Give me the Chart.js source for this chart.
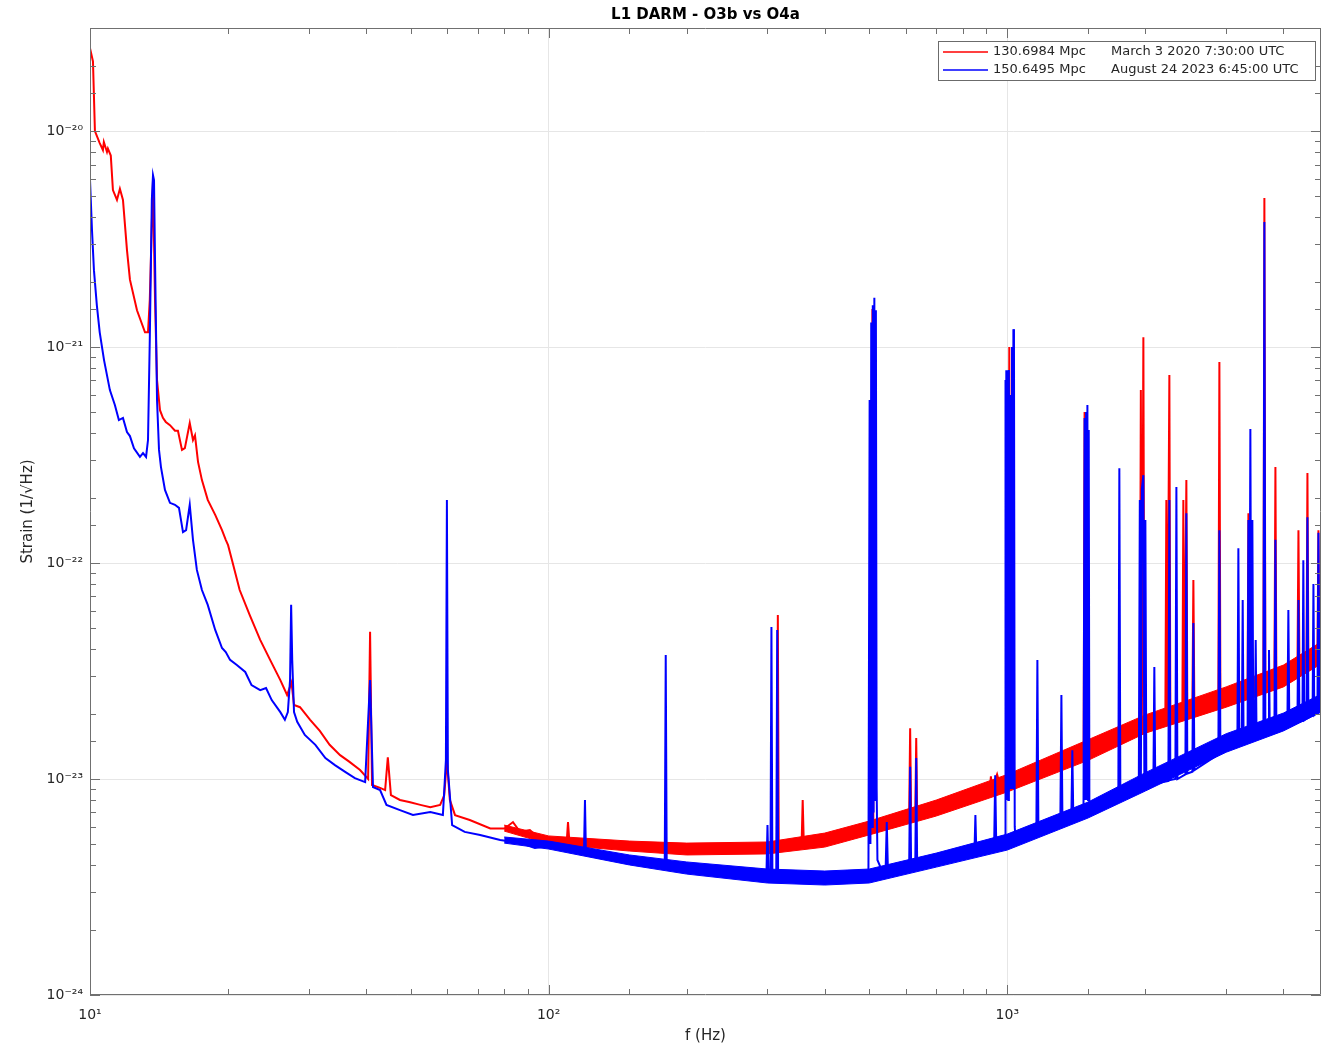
<!DOCTYPE html>
<html>
<head>
<meta charset="utf-8">
<title>L1 DARM - O3b vs O4a</title>
<script src="https://cdn.jsdelivr.net/npm/chart.js@4.4.0/dist/chart.umd.min.js"></script>
<style>
    html, body { margin: 0; padding: 0; background: #fff; }
    #wrap { width: 1321px; height: 1046px; }
</style>
</head>
<body>
<div id="wrap"><canvas id="chart-1" width="1321" height="1046"></canvas></div>
<script>
// O4a (blue), Hz / strain
const o4aFreq = [10, 10.1, 10.2, 10.35, 10.5, 10.73, 11.05, 11.33, 11.56, 11.8, 12.04, 12.22, 12.47, 12.85, 13.05, 13.25, 13.38,
    13.5, 13.64, 13.72, 13.79, 13.86, 14.0, 14.14, 14.28, 14.57, 14.94, 15.32, 15.63, 15.95, 16.2, 16.5, 16.77, 17.1, 17.54,
    18.06, 18.75, 19.4, 19.77, 20.2, 20.9, 21.8, 22.5, 23.5, 24.2, 24.9, 26.0, 26.6, 27.0, 27.3, 27.45, 27.6, 27.85, 28.3,
    29.4, 31.0, 32.6, 34.2, 36.0, 37.8, 39.8, 40.8, 41.4, 42.9, 44.3, 47.4, 50.6, 55.2, 58.8, 59.7, 60.0, 60.3, 61.6, 65.6,
    70.9, 78.4, 86.6, 93.3, 101, 111, 119.4, 120, 120.6, 129.5, 143, 158, 179.1, 180, 180.9, 203, 237, 275, 298.5, 300, 301.5,
    304.5, 306, 307.5, 313.5, 315, 316.5, 355, 412, 478, 498, 501, 503, 505, 507, 509, 511, 513, 515, 517, 519, 521, 530,
    543, 546, 549, 597, 611, 614, 617, 630, 633, 636, 751, 848, 852, 856, 936, 941, 946, 980, 989, 990, 992, 995, 998,
    1002, 1005, 1008, 1012, 1016, 1020, 1024, 1028, 1031, 1034, 1038, 1042, 1093, 1157, 1163, 1169, 1237, 1305, 1312, 1319,
    1379, 1386, 1393, 1466, 1474, 1480, 1485, 1490, 1495, 1500, 1505, 1510, 1531, 1670, 1746, 1755, 1764, 1935, 1945, 1955,
    1965, 1980, 1990, 2000, 2010, 2082, 2092, 2102, 2245, 2256, 2267, 2325, 2337, 2349, 2445, 2457, 2469, 2532, 2545, 2558,
    2885, 2900, 2915, 3174, 3190, 3206, 3245, 3260, 3275, 3340, 3355, 3370, 3388, 3405, 3422, 3439, 3465, 3480, 3495, 3617,
    3635, 3653, 3705, 3720, 3735, 3823, 3842, 3861, 4080, 4100, 4120, 4291, 4313, 4335, 4400, 4420, 4440, 4490, 4512, 4534,
    4630, 4650, 4670, 4744, 4768, 4792, 4830]
const o4aStrain = [5.93e-21, 3.48e-21, 2.27e-21, 1.56e-21, 1.17e-21, 8.7e-22, 6.32e-22, 5.39e-22, 4.59e-22, 4.7e-22, 4.04e-22,
    3.87e-22, 3.4e-22, 3.1e-22, 3.23e-22, 3.1e-22, 3.71e-22,
    1.08e-21, 4.8e-21, 6.25e-21, 5.93e-21, 2.53e-21, 5.69e-22, 3.34e-22, 2.78e-22, 2.18e-22, 1.9e-22, 1.86e-22, 1.8e-22,
    1.39e-22, 1.42e-22, 1.86e-22, 1.28e-22, 9.29e-23, 7.5e-23,
    6.4e-23, 4.9e-23, 4.04e-23, 3.87e-23, 3.56e-23, 3.37e-23, 3.13e-23, 2.72e-23, 2.58e-23, 2.64e-23, 2.32e-23, 2.04e-23,
    1.88e-23, 2.04e-23, 2.87e-23, 6.4e-23, 3.56e-23, 2.04e-23, 1.84e-23,
    1.6e-23, 1.44e-23, 1.25e-23, 1.16e-23, 1.08e-23, 1.01e-23, 9.68e-24, 2.87e-23, 9.18e-24, 8.89e-24, 7.59e-24, 7.18e-24,
    6.81e-24, 7.03e-24, 6.81e-24, 1.22e-23, 1.96e-22, 1.1e-23, 6.12e-24, 5.69e-24,
    5.51e-24, 5.22e-24, 5.06e-24, 4.8e-24, 4.9e-24, 4.69e-24, 4.6e-24, 8.0e-24, 4.45e-24, 4.31e-24, 4.22e-24, 4.13e-24,
    4.0e-24, 3.75e-23, 4.0e-24, 3.87e-24, 3.79e-24, 3.71e-24, 3.71e-24, 6.12e-24, 3.71e-24,
    3.71e-24, 5.06e-23, 3.71e-24, 3.65e-24, 4.9e-23, 3.6e-24, 3.48e-24, 3.41e-24, 3.48e-24, 3.6e-24, 5.69e-22, 5e-24,
    1.3e-21, 6e-24, 1.56e-21, 7e-24, 1.69e-21, 8e-24, 1.48e-21, 9e-24, 4.22e-24, 3.87e-24,
    3.87e-24, 6.32e-24, 3.87e-24, 3.96e-24, 3.96e-24, 1.14e-23, 3.96e-24, 4.0e-24, 1.25e-23, 4.04e-24, 4.4e-24, 4.6e-24,
    6.81e-24, 4.6e-24, 4.9e-24, 1.04e-23, 4.95e-24, 5.06e-24, 5e-24, 7.03e-22, 8e-24, 7.8e-22, 8e-24,
    6.5e-22, 8e-24, 7.83e-22, 9e-24, 6e-22, 9e-24, 1.0e-21, 9e-24, 1.21e-21, 1.1e-21, 6e-24, 5.33e-24, 5.51e-24, 5.7e-24,
    3.56e-23, 5.75e-24, 6.12e-24, 6.2e-24, 2.45e-23, 6.3e-24,
    6.5e-24, 1.36e-23, 6.6e-24, 6.9e-24, 4.69e-22, 8e-24, 5e-22, 8e-24, 5.39e-22, 8e-24, 4.13e-22, 7e-24, 7.03e-24, 7.6e-24,
    7.9e-24, 2.75e-22, 8.0e-24, 8.9e-24, 1.96e-22, 9e-24,
    2.2e-22, 2.55e-22, 9.2e-24, 1.58e-22, 9.3e-24, 9.4e-24, 3.3e-23, 9.5e-24, 9.8e-24, 1.96e-22, 9.9e-24, 1.0e-23, 2.25e-22,
    1.0e-23, 1.05e-23, 1.7e-22, 1.06e-23, 1.08e-23, 5.27e-23, 1.1e-23,
    1.3e-23, 1.42e-22, 1.32e-23, 1.42e-23, 1.17e-22, 1.44e-23, 1.46e-23, 6.74e-23, 1.47e-23, 1.48e-23, 1.58e-22, 1.5e-23,
    4.17e-22, 1.5e-23, 1.58e-22, 1.52e-23, 1.53e-23, 4.4e-23, 1.54e-23, 1.58e-23,
    3.79e-21, 1.6e-23, 1.62e-23, 3.96e-23, 1.63e-23, 1.68e-23, 1.28e-22, 1.7e-23, 1.76e-23, 6.06e-23, 1.77e-23, 1.82e-23,
    6.74e-23, 1.84e-23, 1.86e-23, 1.03e-22, 1.87e-23, 1.9e-23, 1.63e-22, 1.92e-23,
    1.97e-23, 8.0e-23, 1.98e-23, 2.05e-23, 1.38e-22, 2.08e-23, 2.15e-23]

// O3b (red)
const o3bFreq = [10, 10.15, 10.25, 10.5, 10.67, 10.72, 10.89, 10.94, 11.1, 11.22, 11.45, 11.62, 11.8, 12.04, 12.22, 12.66,
    13.18, 13.38, 13.5, 13.72, 13.86, 14.0, 14.21, 14.42, 14.63, 14.94, 15.32, 15.55, 15.87, 16.1, 16.5, 16.77, 16.94, 17.2,
    17.54, 18.06, 18.75, 19.4, 19.77, 20.0, 20.4, 21.2, 22.3, 23.5, 24.7, 26.0, 26.9, 27.5, 27.85, 28.7, 30.2, 31.7, 33.3,
    35.1, 36.8, 38.8, 40.4, 40.8, 41.2, 42.9, 44.0, 44.6, 45.3, 47.4, 49.9, 52.5, 55.2, 58.0, 59.2, 60.0, 60.9, 62.5, 67.3,
    74.6, 80.2, 83.6, 86.6, 91, 95.5, 103, 109.5, 110.2, 111, 123, 143, 166, 193, 225, 262, 303, 314.5, 316, 317.5, 350, 356,
    358, 360, 412, 452, 505.5, 508, 510.5, 556, 611, 614, 617, 630, 633, 636, 751, 852, 916, 921, 926, 950, 964, 1005,
    1010, 1015, 1068, 1237, 1305, 1467, 1474, 1481, 1587, 1765, 1945, 1955, 1965, 1980, 1990, 2211, 2222, 2233, 2256, 2267,
    2408, 2420, 2432, 2457, 2469, 2532, 2545, 2558, 2885, 2900, 2915, 3340, 3355, 3370, 3617, 3635, 3653, 3823, 3842, 3861,
    4291, 4313, 4335, 4490, 4512, 4534, 4744, 4768, 4792, 4830]
const o3bStrain = [2.42e-20, 2.1e-20, 1.0e-20, 8.8e-21, 8.17e-21, 8.9e-21, 8.0e-21, 8.3e-21, 7.7e-21, 5.33e-21, 4.8e-21,
    5.4e-21, 4.8e-21, 2.81e-21, 2.05e-21, 1.48e-21,
    1.17e-21, 1.17e-21, 1.65e-21, 5.9e-21, 1.65e-21, 7.03e-22, 5.1e-22, 4.7e-22, 4.5e-22, 4.35e-22, 4.1e-22, 4.1e-22,
    3.34e-22, 3.4e-22, 4.45e-22, 3.71e-22, 3.9e-22, 2.94e-22,
    2.42e-22, 1.96e-22, 1.67e-22, 1.42e-22, 1.28e-22, 1.21e-22, 1.03e-22, 7.5e-23, 5.74e-23, 4.41e-23, 3.56e-23, 2.87e-23,
    2.45e-23, 2.8e-23, 2.2e-23, 2.15e-23, 1.88e-23, 1.67e-23, 1.44e-23,
    1.29e-23, 1.2e-23, 1.1e-23, 1.0e-23, 4.8e-23, 9.38e-24, 9.1e-24, 8.89e-24, 1.26e-23, 8.43e-24, 8.0e-24, 7.8e-24,
    7.59e-24, 7.4e-24, 7.59e-24, 8.4e-24, 1.22e-23, 8.0e-24, 6.8e-24, 6.46e-24,
    5.9e-24, 5.9e-24, 6.32e-24, 5.7e-24, 5.8e-24, 5.3e-24, 5.1e-24, 5.1e-24, 6.32e-24, 5.06e-24, 4.95e-24, 4.85e-24, 4.8e-24,
    4.69e-24, 4.6e-24, 4.69e-24, 4.8e-24, 4.8e-24, 5.74e-23, 4.85e-24, 4.95e-24, 4.95e-24,
    8.0e-24, 5.0e-24, 5.51e-24, 5.81e-24, 6.1e-24, 1.5e-21, 6.1e-24, 6.46e-24, 6.8e-24, 1.72e-23, 6.8e-24, 6.85e-24,
    1.55e-23, 6.9e-24, 7.59e-24, 8.43e-24, 9.0e-24, 1.03e-23, 9.0e-24, 1.05e-23, 9.38e-24, 9.6e-24,
    1.0e-21, 9.7e-24, 1.0e-23, 1.16e-23, 1.22e-23, 1.33e-23, 5e-22, 1.35e-23, 1.44e-23, 1.55e-23, 1.73e-23, 6.32e-22,
    1.75e-23, 1.11e-21, 1.77e-23, 1.93e-23, 1.96e-22, 1.94e-23, 7.42e-22, 1.96e-23,
    2.0e-23, 1.96e-22, 2.01e-23, 2.42e-22, 2.03e-23, 2.06e-23, 8.34e-23, 2.08e-23, 2.3e-23, 8.53e-22, 2.32e-23, 2.55e-23,
    1.7e-22, 2.57e-23, 2.7e-23, 4.9e-21, 2.72e-23, 2.8e-23, 2.78e-22, 2.82e-23,
    3.1e-23, 1.42e-22, 3.12e-23, 3.3e-23, 2.61e-22, 3.32e-23, 3.7e-23, 1.42e-22, 3.72e-23, 3.8e-23]

// noise band (upper / lower edge of the thick trace)
const bandFreq = [80, 100, 150, 200, 300, 400, 500, 700, 1000, 1500, 2000, 3000, 4000, 4830]
const o3bHigh = [6.12e-24, 5.45e-24, 5.16e-24, 5.05e-24, 5.11e-24, 5.62e-24, 6.39e-24, 7.99e-24, 1.05e-23, 1.52e-23, 1.98e-23, 2.67e-23, 3.37e-23, 4.31e-23]
const o3bLow = [5.74e-24, 5.0e-24, 4.64e-24, 4.45e-24, 4.5e-24, 4.84e-24, 5.51e-24, 6.74e-24, 8.71e-24, 1.22e-23, 1.63e-23, 2.15e-23, 2.67e-23, 3.41e-23]
const o4aHigh = [5.39e-24, 5.16e-24, 4.45e-24, 4.13e-24, 3.83e-24, 3.75e-24, 3.83e-24, 4.54e-24, 5.56e-24, 7.82e-24, 1.07e-23, 1.62e-23, 2.02e-23, 2.47e-23]
const o4aLow = [5.05e-24, 4.74e-24, 4.0e-24, 3.63e-24, 3.3e-24, 3.23e-24, 3.3e-24, 3.91e-24, 4.69e-24, 6.6e-24, 8.8e-24, 1.33e-23, 1.67e-23, 2.04e-23]

const legendRange = ['130.6984 Mpc', '150.6495 Mpc']
const legendTime = ['March 3 2020 7:30:00 UTC', 'August 24 2023 6:45:00 UTC']
const legendColor = ['#ff0000', '#0000ff']

const xMin = 10, xMax = 4830
const yMin = 1e-24, yMax = 3e-20

const pts = (xs, ys) => xs.map((x, i) => ({ x: x, y: ys[i] }))

const isMajor = v => Math.abs(Math.log10(v) - Math.round(Math.log10(v))) < 1e-6
const sup = s => s.replace(/[-0-9]/g, c => ({ '-': '⁻', '0': '⁰', '1': '¹', '2': '²', '3': '³', '4': '⁴', '5': '⁵', '6': '⁶', '7': '⁷', '8': '⁸', '9': '⁹' })[c])
const powLabel = v => isMajor(v) ? '10' + sup(String(Math.round(Math.log10(v)))) : ''

Chart.defaults.font.family = '"DejaVu Sans", sans-serif'
Chart.defaults.color = '#262626'

// MATLAB like box with inward ticks on all four sides
const frameTicks = {
    id: 'frameTicks',
    afterDatasetsDraw(chart) {
        const { ctx, chartArea: a, scales: { x, y } } = chart
        ctx.save()
        ctx.strokeStyle = '#707070'
        ctx.lineWidth = 1
        ctx.beginPath()
        ctx.rect(a.left + 0.5, a.top + 0.5, a.right - a.left - 1, a.bottom - a.top - 1)
        x.ticks.forEach(t => {
            const px = Math.round(x.getPixelForValue(t.value)) + 0.5
            const len = isMajor(t.value) ? 10 : 6
            ctx.moveTo(px, a.bottom); ctx.lineTo(px, a.bottom - len)
            ctx.moveTo(px, a.top); ctx.lineTo(px, a.top + len)
        })
        y.ticks.forEach(t => {
            const py = Math.round(y.getPixelForValue(t.value)) + 0.5
            const len = isMajor(t.value) ? 10 : 6
            ctx.moveTo(a.left, py); ctx.lineTo(a.left + len, py)
            ctx.moveTo(a.right, py); ctx.lineTo(a.right - len, py)
        })
        ctx.stroke()
        ctx.restore()
    }
}

// boxed legend in the upper right corner
const boxLegend = {
    id: 'boxLegend',
    afterDraw(chart) {
        const { ctx, chartArea: a } = chart
        const bx = a.right - 383, by = a.top + 13, bw = 377, bh = 39
        ctx.save()
        ctx.fillStyle = '#fff'
        ctx.fillRect(bx, by, bw, bh)
        ctx.strokeStyle = '#6b6b6b'
        ctx.lineWidth = 1
        ctx.strokeRect(bx + 0.5, by + 0.5, bw, bh)
        ctx.font = '13px "DejaVu Sans"'
        ctx.textBaseline = 'middle'
        legendRange.forEach((r, i) => {
            const ly = by + 11 + i * 18
            ctx.strokeStyle = legendColor[i]
            ctx.lineWidth = 1.5
            ctx.beginPath()
            ctx.moveTo(bx + 5, ly); ctx.lineTo(bx + 50, ly)
            ctx.stroke()
            ctx.fillStyle = '#262626'
            ctx.fillText(r, bx + 55, ly)
            ctx.fillText(legendTime[i], bx + 173, ly)
        })
        ctx.restore()
    }
}

const ctx1 = document.getElementById('chart-1')

new Chart(ctx1, {
    type: 'line',
    data: {
        datasets: [
            { label: 'O4a', data: pts(o4aFreq, o4aStrain), borderColor: '#0000ff', borderWidth: 2 },
            { label: 'O4a low', data: pts(bandFreq, o4aLow), borderColor: '#0000ff', borderWidth: 1 },
            { label: 'O4a high', data: pts(bandFreq, o4aHigh), borderColor: '#0000ff', borderWidth: 1, fill: '-1', backgroundColor: '#0000ff' },
            { label: 'O3b', data: pts(o3bFreq, o3bStrain), borderColor: '#ff0000', borderWidth: 2 },
            { label: 'O3b low', data: pts(bandFreq, o3bLow), borderColor: '#ff0000', borderWidth: 1 },
            { label: 'O3b high', data: pts(bandFreq, o3bHigh), borderColor: '#ff0000', borderWidth: 1, fill: '-1', backgroundColor: '#ff0000' }
        ]
    },
    options: {
        responsive: false,
        animation: false,
        events: [],
        elements: { point: { radius: 0 }, line: { tension: 0, borderJoinStyle: 'miter' } },
        layout: { padding: 0 },
        plugins: {
            legend: { display: false },
            tooltip: { enabled: false },
            title: {
                display: true,
                fullSize: false,
                text: 'L1 DARM - O3b vs O4a',
                color: '#000',
                font: { size: 15, weight: 'bold' },
                padding: { top: 6, bottom: 4 }
            }
        },
        scales: {
            x: {
                type: 'logarithmic',
                min: xMin,
                max: xMax,
                border: { display: false },
                grid: {
                    drawTicks: false,
                    color: c => (c.tick && isMajor(c.tick.value)) ? '#e6e6e6' : 'rgba(0,0,0,0)'
                },
                ticks: { autoSkip: false, maxRotation: 0, padding: 12, font: { size: 14 }, callback: v => powLabel(v) },
                title: { display: true, text: 'f (Hz)', font: { size: 15 }, padding: { top: 0, bottom: 1 } },
                afterFit: s => { s.height = 51; s.paddingLeft = 0; s.paddingRight = 0 }
            },
            y: {
                type: 'logarithmic',
                min: yMin,
                max: yMax,
                border: { display: false },
                grid: {
                    drawTicks: false,
                    color: c => (c.tick && isMajor(c.tick.value)) ? '#e6e6e6' : 'rgba(0,0,0,0)'
                },
                ticks: { autoSkip: false, padding: 7, font: { size: 14 }, callback: v => powLabel(v) },
                title: { display: true, text: 'Strain (1/√Hz)', font: { size: 15 }, padding: { top: 19, bottom: 0 } },
                afterFit: s => { s.width = 90 }
            }
        }
    },
    plugins: [frameTicks, boxLegend]
});
</script>
</body>
</html>
